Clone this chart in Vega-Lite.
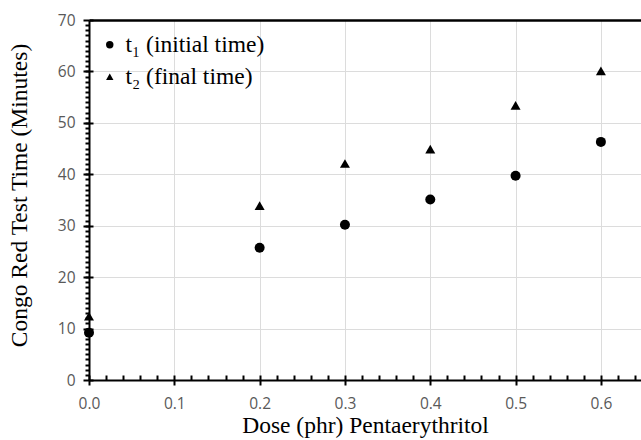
{
  "$schema": "https://vega.github.io/schema/vega-lite/v6.json",
  "autosize": "none",
  "padding": {"left": 89, "top": 20, "right": 0, "bottom": 60},
  "width": 552,
  "height": 360,
  "background": "white",
  "config": {"view": {"stroke": null}},
  "data": {"values": [
    {"dose": 0.0, "series": "t₁ (initial time)", "time": 9.2},
    {"dose": 0.2, "series": "t₁ (initial time)", "time": 25.7},
    {"dose": 0.3, "series": "t₁ (initial time)", "time": 30.2},
    {"dose": 0.4, "series": "t₁ (initial time)", "time": 35.1},
    {"dose": 0.5, "series": "t₁ (initial time)", "time": 39.7},
    {"dose": 0.6, "series": "t₁ (initial time)", "time": 46.3},
    {"dose": 0.0, "series": "t₂ (final time)", "time": 12.4},
    {"dose": 0.2, "series": "t₂ (final time)", "time": 33.9},
    {"dose": 0.3, "series": "t₂ (final time)", "time": 42.1},
    {"dose": 0.4, "series": "t₂ (final time)", "time": 44.9},
    {"dose": 0.5, "series": "t₂ (final time)", "time": 53.4},
    {"dose": 0.6, "series": "t₂ (final time)", "time": 60.1}
  ]},
  "resolve": {"axis": {"x": "independent", "y": "independent"}},
  "layer": [
    {
      "mark": {"type": "point", "filled": true, "opacity": 1, "clip": false},
      "encoding": {
        "x": {"field": "dose", "type": "quantitative",
          "scale": {"domain": [0, 0.647], "nice": false, "zero": false},
          "axis": {"orient": "bottom", "title": "Dose (phr) Pentaerythritol", "values": [0, 0.1, 0.2, 0.3, 0.4, 0.5, 0.6],
            "format": ".1f", "domainColor": "black", "domainWidth": 2,
            "tickColor": "black", "tickWidth": 2, "tickSize": 5, "labelFlush": false,
            "labelFont": "Open Sans", "labelFontSize": 15.5, "labelColor": "#595959", "labelPadding": 11,
            "titleFont": "Liberation Serif", "titleFontSize": 23.5, "titleFontWeight": "normal", "titleColor": "black", "titlePadding": 2,
            "titleX": 276,
            "grid": true, "gridColor": "#dcdcdc", "gridWidth": 1}},
        "y": {"field": "time", "type": "quantitative",
          "scale": {"domain": [0, 70], "nice": false},
          "axis": {"orient": "left", "title": "Congo Red Test Time (Minutes)", "values": [0, 10, 20, 30, 40, 50, 60, 70],
            "domainColor": "black", "domainWidth": 2, "labelFlush": false,
            "tickColor": "black", "tickWidth": 2, "tickSize": 6,
            "labelFont": "Open Sans", "labelFontSize": 15.5, "labelColor": "#595959", "labelPadding": 8,
            "titleFont": "Liberation Serif", "titleFontSize": 23.5, "titleFontWeight": "normal", "titleColor": "black", "titlePadding": 26,
            "titleY": 175,
            "grid": true, "gridColor": "#dcdcdc", "gridWidth": 1}},
        "shape": {"field": "series", "type": "nominal",
          "scale": {"domain": ["t₁ (initial time)", "t₂ (final time)"], "range": ["circle", "triangle-up"]},
          "legend": {"title": null, "orient": "none", "legendX": 9, "legendY": 13,
            "labelFont": "Liberation Serif", "labelFontSize": 23.5, "labelColor": "black",
            "symbolFillColor": "black", "symbolStrokeColor": "black", "symbolSize": 55,
            "rowPadding": 7, "labelOffset": 4}},
        "color": {"value": "black"},
        "size": {"value": 100}
      }
    },
    {
      "mark": {"type": "point", "opacity": 0},
      "encoding": {
        "x": {"field": "dose", "type": "quantitative",
          "axis": {"orient": "bottom", "title": null, "labels": false, "domain": false, "grid": false,
            "values": [0, 0.02, 0.04, 0.06, 0.08, 0.1, 0.12, 0.14, 0.16, 0.18, 0.2, 0.22, 0.24, 0.26, 0.28, 0.3, 0.32, 0.34, 0.36, 0.38, 0.4, 0.42, 0.44, 0.46, 0.48, 0.5, 0.52, 0.54, 0.56, 0.58, 0.6, 0.62, 0.64],
            "tickColor": "black", "tickWidth": 2, "tickSize": -5}},
        "y": {"field": "time", "type": "quantitative",
          "axis": {"orient": "left", "title": null, "labels": false, "domain": false, "grid": false,
            "values": [1,2,3,4,5,6,7,8,9,10,11,12,13,14,15,16,17,18,19,20,21,22,23,24,25,26,27,28,29,30,31,32,33,34,35,36,37,38,39,40,41,42,43,44,45,46,47,48,49,50,51,52,53,54,55,56,57,58,59,60,61,62,63,64,65,66,67,68,69],
            "tickColor": "black", "tickWidth": 2, "tickSize": 4}}
      }
    },
    {
      "mark": {"type": "point", "opacity": 0},
      "encoding": {
        "x": {"field": "dose", "type": "quantitative",
          "axis": {"orient": "top", "title": null, "labels": false, "ticks": false, "grid": false,
            "domainColor": "black", "domainWidth": 2.5}},
        "y": {"field": "time", "type": "quantitative",
          "axis": {"orient": "left", "title": null, "labels": false, "domain": false, "grid": false,
            "values": [0, 10, 20, 30, 40, 50, 60, 70],
            "tickColor": "black", "tickWidth": 2, "tickSize": -4}}
      }
    }
  ]
}
